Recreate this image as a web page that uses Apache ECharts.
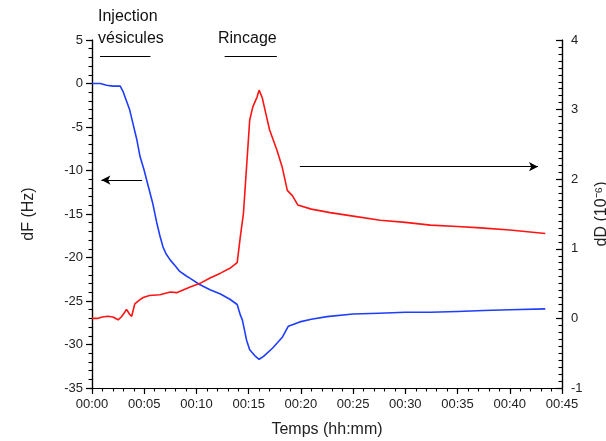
<!DOCTYPE html>
<html>
<head>
<meta charset="utf-8">
<script src="https://cdn.jsdelivr.net/npm/echarts@6/dist/echarts.min.js"></script>
<style>
html, body { margin: 0; padding: 0; background: #fff; }
#main { width: 606px; height: 441px; }
</style>
</head>
<body>
<div id="main"></div>
<script>
// temps en minutes, dF en Hz (axe gauche)
var dfTime = [0, 0.8, 1.4, 2.0, 2.7, 3.0, 3.3, 3.6, 3.9, 4.3, 4.6, 5.0, 5.3, 5.8, 6.2, 6.5, 6.8, 7.1, 7.5, 8.0,
	8.4, 9.0, 9.4, 10.3, 11.3, 12.3, 13.2, 13.9, 14.2, 14.4, 14.8, 15.1, 15.6, 16.0, 16.4, 17.3, 18.2, 18.8, 19.9,
	21.0, 22.5, 25, 27.5, 30, 32.4, 35, 37.5, 40, 43.4];
var dfValues = [0, 0, -0.2, -0.3, -0.3, -1, -2, -3, -4.5, -6.5, -8.4, -10, -11.4, -13.7, -16, -17.5, -18.8, -19.6, -20.3, -21.0,
	-21.6, -22.1, -22.4, -23.1, -23.7, -24.2, -24.8, -25.4, -26.6, -27.2, -29.5, -30.6, -31.3, -31.7, -31.4, -30.4, -29.2, -27.9, -27.4,
	-27.1, -26.8, -26.5, -26.4, -26.3, -26.3, -26.2, -26.1, -26.0, -25.9];

// dD en 10^-6 (axe droit)
var ddTime = [0, 0.5, 1, 1.5, 2, 2.5, 2.8, 3.1, 3.3, 3.6, 3.8, 4.1, 4.5, 4.9, 5.5, 6.5, 7.5, 8.1, 9.4, 10.3,
	11.3, 12.3, 13.2, 13.9, 14.2, 14.5, 15.1, 15.4, 15.8, 16.0, 16.3, 16.6, 17.0, 17.7, 18.2, 18.7, 19.2, 19.7,
	21, 22.8, 25, 27.6, 30, 32.4, 35, 37.2, 40, 43.4];
var ddValues = [0, 0.0, 0.02, 0.03, 0.02, -0.02, 0.02, 0.08, 0.13, 0.06, 0.03, 0.21, 0.26, 0.30, 0.33, 0.34, 0.38, 0.37, 0.45, 0.50,
	0.58, 0.65, 0.72, 0.80, 1.17, 1.51, 2.85, 3.04, 3.18, 3.28, 3.17, 2.97, 2.71, 2.42, 2.18, 1.84, 1.76, 1.63,
	1.57, 1.52, 1.47, 1.41, 1.38, 1.34, 1.32, 1.30, 1.27, 1.22];

// repères (flèches et traits sous les annotations)
var arrowLeft = [[4.8, -11.1], [0.9, -11.1]];
var arrowRight = [[19.9, 2.18], [42.7, 2.18]];
var barInjection = [[0.77, 3.1], [5.6, 3.1]];
var barRincage = [[12.7, 3.1], [17.7, 3.1]];

function zip(a, b) {
	return a.map(function (v, i) { return [v, b[i]]; });
}
function pad(n) { return (n < 10 ? '0' : '') + n; }

var font = 'Liberation Sans, Arial, sans-serif';
var myChart = echarts.init(document.getElementById('main'));

var axisCommon = {
	axisLine: { show: true, onZero: false, lineStyle: { color: '#000', width: 1.2 } },
	axisTick: { show: true, length: 6, lineStyle: { color: '#000', width: 1.2 } },
	splitLine: { show: false },
	axisLabel: { color: '#222', fontSize: 13, fontFamily: font },
	nameTextStyle: { color: '#222', fontSize: 16, fontFamily: font }
};

// axes supplémentaires pour les petites graduations (dans une 2e grille superposée)
function minorAxis(min, max, step, pos, grid, inside) {
	return {
		gridIndex: grid,
		type: 'value', min: min, max: max, interval: step, position: pos,
		axisLine: { show: true, onZero: false, lineStyle: { color: '#000', width: 1.2 } },
		axisLabel: { show: false },
		splitLine: { show: false },
		axisTick: { show: true, inside: !!inside, length: 3.5, lineStyle: { color: '#000', width: 1.1 } }
	};
}

function seg(pts, startSym, endSym) {
	return [
		{ coord: pts[0], symbol: startSym },
		{ coord: pts[1], symbol: endSym }
	];
}

var gridBox = { left: 92, right: 44, top: 40, bottom: 53, containLabel: false, outerBoundsMode: 'none' };

var option = {
	animation: false,
	backgroundColor: '#fff',
	grid: [Object.assign({}, gridBox), Object.assign({}, gridBox)],
	xAxis: [
		Object.assign({}, axisCommon, {
			gridIndex: 0,
			type: 'value',
			min: 0, max: 45, interval: 5,
			axisLabel: Object.assign({}, axisCommon.axisLabel, {
				margin: 10,
				formatter: function (v) { return pad(Math.floor(v / 60)) + ':' + pad(v % 60); }
			}),
			name: 'Temps (hh:mm)',
			nameLocation: 'middle',
			nameGap: 34
		}),
		minorAxis(0, 45, 1, 'bottom', 1)
	],
	yAxis: [
		Object.assign({}, axisCommon, {
			gridIndex: 0,
			type: 'value',
			min: -35, max: 5, interval: 5,
			position: 'left',
			axisLabel: Object.assign({}, axisCommon.axisLabel, { margin: 9 }),
			name: 'dF (Hz)',
			nameLocation: 'middle',
			nameRotate: 90,
			nameGap: 55
		}),
		Object.assign({}, axisCommon, {
			gridIndex: 0,
			type: 'value',
			min: -1, max: 4, interval: 1,
			position: 'right',
			axisTick: Object.assign({}, axisCommon.axisTick, { inside: true }),
			axisLabel: Object.assign({}, axisCommon.axisLabel, { margin: 9 }),
			name: 'dD (10⁻⁶)',
			nameLocation: 'middle',
			nameRotate: 90,
			nameGap: 22
		}),
		minorAxis(-35, 5, 1, 'left', 1),
		minorAxis(-10, 40, 1, 'right', 1, true)
	],
	graphic: [
		{ type: 'text', left: 98, top: 9, style: { text: 'Injection', fontSize: 16, fontFamily: font, fill: '#111' } },
		{ type: 'text', left: 98, top: 31, style: { text: 'vésicules', fontSize: 16, fontFamily: font, fill: '#111' } },
		{ type: 'text', left: 218, top: 31, style: { text: 'Rincage', fontSize: 16, fontFamily: font, fill: '#111' } }
	],
	series: [{
		name: 'dF',
		type: 'line',
		xAxisIndex: 0,
		yAxisIndex: 0,
		showSymbol: false,
		symbol: 'none',
		lineStyle: { color: '#1f3dff', width: 1.6 },
		data: zip(dfTime, dfValues),
		markLine: {
			silent: true,
			symbolSize: [7, 9],
			label: { show: false },
			lineStyle: { color: '#000', width: 1.2, type: 'solid' },
			emphasis: { disabled: true },
			data: [
				seg(arrowLeft, 'none', 'arrow'),
				seg(barInjection, 'none', 'none'),
				seg(barRincage, 'none', 'none')
			]
		}
	}, {
		name: 'dD',
		type: 'line',
		xAxisIndex: 0,
		yAxisIndex: 1,
		showSymbol: false,
		symbol: 'none',
		lineStyle: { color: '#ff1414', width: 1.6 },
		data: zip(ddTime, ddValues),
		markLine: {
			silent: true,
			symbolSize: [7, 9],
			label: { show: false },
			lineStyle: { color: '#000', width: 1.2, type: 'solid' },
			emphasis: { disabled: true },
			data: [
				seg(arrowRight, 'none', 'arrow')
			]
		}
	}]
};

myChart.setOption(option);
</script>
</body>
</html>
